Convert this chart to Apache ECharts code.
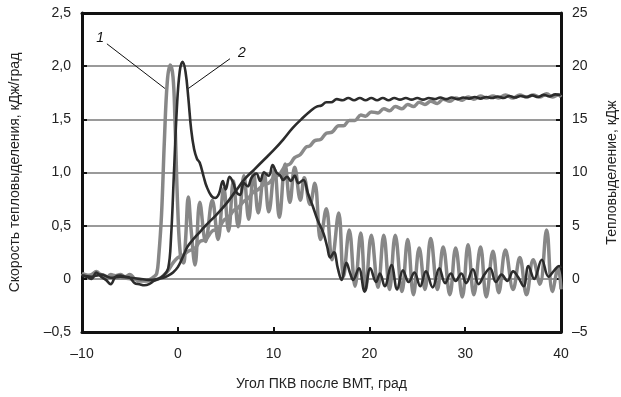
<!DOCTYPE html>
<html><head><meta charset="utf-8">
<script src="https://cdn.jsdelivr.net/npm/echarts@6/dist/echarts.min.js"></script>
<style>html,body{margin:0;padding:0;background:#fff;overflow:hidden;width:621px;height:397px}#c{width:621px;height:397px;position:absolute;left:0;top:0}</style>
</head><body><div id="c"></div>
<script>
// x tick labels / axis ranges
const xTicks = [-10, 0, 10, 20, 30, 40];
const leftTicks = [-0.5, 0, 0.5, 1.0, 1.5, 2.0, 2.5];
const rightTicks = [-5, 0, 5, 10, 15, 20, 25];
const xTitle = 'Угол ПКВ после ВМТ, град';
const leftTitle = 'Скорость тепловыделения, кДж/град';
const rightTitle = 'Тепловыделение, кДж';

// Curve 1 (gray): heat release rate, kJ/deg
const rate1 = [[-10,0.05],[-9.5,0.03],[-9,0.04],[-8.5,0.07],[-8,0.03],[-7.5,0.0],[-7,0.04],[-6.5,0.03],[-6,0.04],[-5.5,0.02],[-5,0.04],[-4.5,0.0],[-4,-0.02],[-3.5,-0.02],[-3,-0.01],[-2.5,0.02],[-2.2,0.05],[-2.0,0.2],[-1.7,0.6],[-1.4,1.3],[-1.1,1.85],[-0.8,2.01],[-0.5,1.9],[-0.3,1.5],[0.0,0.65],[0.3,0.2],[0.6,0.15],[0.8,0.35],[1.1,0.77],[1.4,0.45],[1.8,0.13],[2.3,0.72],[2.9,0.35],[3.6,0.74],[4.2,0.37],[4.8,0.85],[5.3,0.45],[5.8,0.92],[6.3,0.49],[6.9,0.97],[7.4,0.56],[7.9,1.0],[8.4,0.62],[9.0,1.0],[9.5,0.63],[10.1,1.03],[10.6,0.58],[11.2,1.08],[11.7,0.72],[12.2,1.05],[12.8,0.74],[13.2,0.95],[13.8,0.7],[14.3,0.9],[14.9,0.37],[15.5,0.66],[16.1,0.18],[16.8,0.62],[17.3,0.02],[17.9,0.46],[18.5,-0.07],[19.1,0.43],[19.6,-0.1],[20.2,0.41],[20.9,-0.08],[21.5,0.41],[22.1,-0.1],[22.7,0.41],[23.4,-0.12],[24.0,0.37],[24.6,-0.15],[25.2,0.29],[25.8,-0.1],[26.4,0.38],[27.1,-0.1],[27.7,0.30],[28.4,-0.15],[29.0,0.29],[29.7,-0.17],[30.3,0.32],[30.9,-0.15],[31.6,0.30],[32.2,-0.17],[32.9,0.26],[33.5,-0.13],[34.2,0.27],[35.0,-0.1],[35.7,0.2],[36.4,-0.15],[37.1,0.18],[37.8,-0.05],[38.5,0.46],[39.1,-0.12],[39.7,0.1],[40,-0.1]];

// Curve 2 (dark): heat release rate, kJ/deg
const rate2 = [[-10,0.03],[-9.5,0.02],[-9,0.0],[-8.5,0.06],[-8,0.02],[-7.5,-0.01],[-7,-0.05],[-6.5,0.02],[-6,0.03],[-5.5,0.02],[-5,0.01],[-4.5,-0.04],[-4,-0.05],[-3.5,-0.06],[-3,-0.05],[-2.5,-0.02],[-2,0.0],[-1.5,0.03],[-1.0,0.1],[-0.7,0.4],[-0.4,1.0],[-0.1,1.6],[0.2,1.95],[0.5,2.04],[0.8,1.95],[1.1,1.7],[1.4,1.4],[1.7,1.22],[2.0,1.13],[2.3,1.09],[2.7,0.96],[3.0,0.87],[3.5,0.78],[3.9,0.76],[4.3,0.8],[4.7,0.92],[5.0,0.84],[5.4,0.96],[5.8,0.9],[6.1,0.82],[6.5,0.79],[6.9,0.9],[7.3,0.87],[7.7,0.95],[8.2,0.99],[8.6,0.92],[9.0,1.0],[9.5,0.97],[9.9,1.07],[10.3,1.0],[10.7,0.97],[11.0,0.93],[11.4,0.96],[11.8,0.92],[12.2,0.97],[12.6,0.9],[13.1,0.93],[13.6,0.8],[14.1,0.68],[14.6,0.55],[15.2,0.43],[15.6,0.3],[15.9,0.2],[16.3,0.25],[16.7,0.1],[17.1,-0.01],[17.6,0.15],[18.0,0.05],[18.3,-0.01],[18.9,0.1],[19.5,-0.12],[20.1,0.1],[20.7,-0.03],[21.1,0.05],[21.6,-0.07],[22.3,0.13],[22.9,-0.1],[23.5,0.08],[24.1,-0.03],[24.7,0.06],[25.3,-0.07],[25.9,0.07],[26.6,-0.08],[27.3,0.1],[27.9,-0.04],[28.5,0.05],[29.0,-0.02],[29.6,0.05],[30.1,-0.04],[30.8,0.09],[31.4,-0.05],[32.0,0.04],[32.6,0.1],[33.2,-0.03],[33.8,0.04],[34.4,-0.02],[35.0,0.07],[35.5,0.02],[36.1,-0.07],[36.6,0.12],[37.2,0.0],[38.0,0.18],[38.7,0.02],[39.3,0.08],[39.8,0.12],[40,0.1]];

// Curve 1 (gray): cumulative heat release, kJ
const cum1 = [[-10,0.5],[-9,0.3],[-8,0.4],[-7,0.1],[-6,0.1],[-5,0.0],[-4,-0.1],[-3,-0.2],[-2,0.0],[-1.5,0.3],[-1,0.8],[-0.5,1.5],[0,2.0],[0.5,2.2],[1.1,2.6],[1.8,2.9],[2.3,3.5],[2.9,3.7],[3.6,4.5],[4.2,4.7],[4.8,5.5],[5.3,5.8],[5.8,6.4],[6.3,6.7],[6.9,7.3],[7.4,7.6],[7.9,8.2],[8.4,8.4],[9.0,8.9],[9.5,9.0],[10.1,9.6],[10.6,9.8],[11.2,10.6],[11.7,10.8],[12.2,11.4],[12.8,11.7],[13.4,12.4],[13.8,12.5],[14.3,13.0],[14.9,13.1],[15.5,13.7],[16.1,13.8],[16.8,14.4],[17.3,14.4],[17.9,14.9],[18.5,14.9],[19.1,15.4],[19.6,15.3],[20.2,15.7],[20.9,15.6],[21.5,16.0],[22.1,15.8],[22.7,16.2],[23.4,16.0],[24.0,16.4],[24.6,16.2],[25.2,16.6],[25.8,16.4],[26.4,16.7],[27.1,16.5],[27.7,16.9],[28.4,16.7],[29.0,17.0],[29.7,16.8],[30.3,17.1],[30.9,16.9],[31.6,17.2],[32.2,17.0],[32.9,17.2],[33.5,17.0],[34.2,17.3],[35.0,17.0],[35.7,17.3],[36.4,17.1],[37.1,17.3],[37.8,17.1],[38.5,17.4],[39.1,17.1],[39.7,17.3],[40,17.1]];

// Curve 2 (dark): cumulative heat release, kJ
const cum2 = [[-10,0.3],[-9,0.2],[-8,0.4],[-7,0.1],[-6,0.2],[-5,0.1],[-4,0.0],[-3,-0.1],[-2,0.0],[-1.5,0.1],[-1,0.3],[-0.5,0.6],[0,1.1],[0.5,2.0],[1,3.0],[1.5,3.6],[2,4.1],[2.5,4.6],[3,5.1],[4,6.0],[5,7.0],[6,8.2],[7,9.4],[8,10.3],[9,11.2],[10,12.1],[11,13.1],[12,14.2],[13,15.1],[14,15.9],[14.5,16.2],[15,16.3],[15.5,16.6],[16,16.6],[16.6,16.9],[17.2,16.8],[17.8,17.0],[18.4,16.8],[19.0,17.0],[19.6,16.8],[20.2,17.0],[20.8,16.8],[21.4,17.0],[22.0,16.8],[22.6,17.0],[23.2,16.85],[23.8,17.0],[24.4,16.85],[25.0,17.0],[25.6,16.85],[26.2,17.0],[26.8,16.9],[27.4,17.05],[28.0,16.9],[28.6,17.05],[29.2,16.9],[29.8,17.05],[30.4,16.95],[31.0,17.1],[31.6,16.95],[32.2,17.1],[32.8,17.0],[33.4,17.15],[34.0,17.0],[34.6,17.2],[35.2,17.05],[35.8,17.2],[36.4,17.1],[37.0,17.25],[37.6,17.1],[38.2,17.3],[38.8,17.15],[39.4,17.35],[40,17.3]];

// Curve labels (data coords on left axis)
const curveLabels = ['1', '2'];
const labelAnchors = [[-8.1, 2.26], [6.7, 2.12]];
const leaderLines = [[[-7.4, 2.21], [-1.34, 1.79]], [[5.45, 2.07], [1.1, 1.79]]];

const FONT = '"Liberation Sans", Arial, sans-serif';
const fmt = v => {
  const s = (Math.abs(v) < 1e-9) ? '0' : (Number.isInteger(v) ? String(Math.abs(v)) : Math.abs(v).toFixed(1).replace('.', ','));
  return (v < -1e-9 ? '–' : '') + s;
};
const fmtL = v => {
  if (Math.abs(v) < 1e-9) return '0';
  return (v < 0 ? '–' : '') + Math.abs(v).toFixed(1).replace('.', ',');
};

const chart = echarts.init(document.getElementById('c'), null, {renderer: 'canvas', width: 621, height: 397});
const labelStyle = {color: '#222', fontSize: 14, fontFamily: FONT};
const blackLine = {show: true, onZero: false, lineStyle: {color: '#111', width: 3}};
const inTick = {show: true, inside: true, length: 5, lineStyle: {color: '#111', width: 2}};
chart.setOption({
  animation: false,
  backgroundColor: '#fff',
  grid: {left: 82, right: 60, top: 13, bottom: 65, show: false, containLabel: false, outerBoundsMode: 'none'},
  xAxis: [{
    type: 'value', min: xTicks[0], max: xTicks[xTicks.length - 1], interval: 10, position: 'bottom',
    name: xTitle, nameLocation: 'middle', nameGap: 45,
    nameTextStyle: {color: '#222', fontSize: 14, fontFamily: FONT},
    axisLine: blackLine, axisTick: inTick,
    axisLabel: Object.assign({margin: 15, formatter: fmt}, labelStyle),
    splitLine: {show: false}
  }, {
    type: 'value', min: xTicks[0], max: xTicks[xTicks.length - 1], interval: 10, position: 'top',
    axisLine: blackLine, axisTick: {show: false}, axisLabel: {show: false}, splitLine: {show: false}
  }],
  yAxis: [{
    type: 'value', min: leftTicks[0], max: leftTicks[leftTicks.length - 1], interval: 0.5, position: 'left',
    name: leftTitle, nameLocation: 'middle', nameGap: 60,
    nameTextStyle: {color: '#222', fontSize: 14, fontFamily: FONT},
    axisLine: blackLine, axisTick: inTick,
    axisLabel: Object.assign({margin: 11, formatter: fmtL}, labelStyle),
    splitLine: {show: true, showMinLine: false, showMaxLine: false, lineStyle: {color: '#9a9a9a', width: 2}}
  }, {
    type: 'value', min: rightTicks[0], max: rightTicks[rightTicks.length - 1], interval: 5, position: 'right',
    name: rightTitle, nameLocation: 'middle', nameGap: 44, nameRotate: 90,
    nameTextStyle: {color: '#222', fontSize: 14, fontFamily: FONT},
    axisLine: blackLine, axisTick: inTick,
    axisLabel: Object.assign({margin: 11, formatter: fmt}, labelStyle),
    splitLine: {show: false}
  }],
  series: [
    {type: 'line', name: 'rate1', data: rate1, yAxisIndex: 0, smooth: 0.4, symbol: 'none', z: 2,
     lineStyle: {color: '#878787', width: 3.5},
     markLine: {silent: true, symbol: 'none', label: {show: false}, lineStyle: {color: '#111', width: 1, type: 'solid'},
       data: leaderLines.map(l => [{coord: l[0]}, {coord: l[1]}])},
     markPoint: {silent: true, symbol: 'circle', symbolSize: 0,
       data: curveLabels.map((t, i) => ({coord: labelAnchors[i], value: t,
         label: {show: true, formatter: t, color: '#111', fontSize: 14, fontStyle: 'italic', fontFamily: FONT,
           backgroundColor: i === 1 ? '#fff' : 'transparent', padding: [1, 3]}}))}},
    {type: 'line', name: 'cum1', data: cum1, yAxisIndex: 1, smooth: 0.4, symbol: 'none', z: 3,
     lineStyle: {color: '#8a8a8a', width: 3.5}},
    {type: 'line', name: 'rate2', data: rate2, yAxisIndex: 0, smooth: 0.4, symbol: 'none', z: 4,
     lineStyle: {color: '#2c2c2c', width: 2.6}},
    {type: 'line', name: 'cum2', data: cum2, yAxisIndex: 1, smooth: 0.4, symbol: 'none', z: 5,
     lineStyle: {color: '#2c2c2c', width: 2.6}}
  ]
});
</script></body></html>
